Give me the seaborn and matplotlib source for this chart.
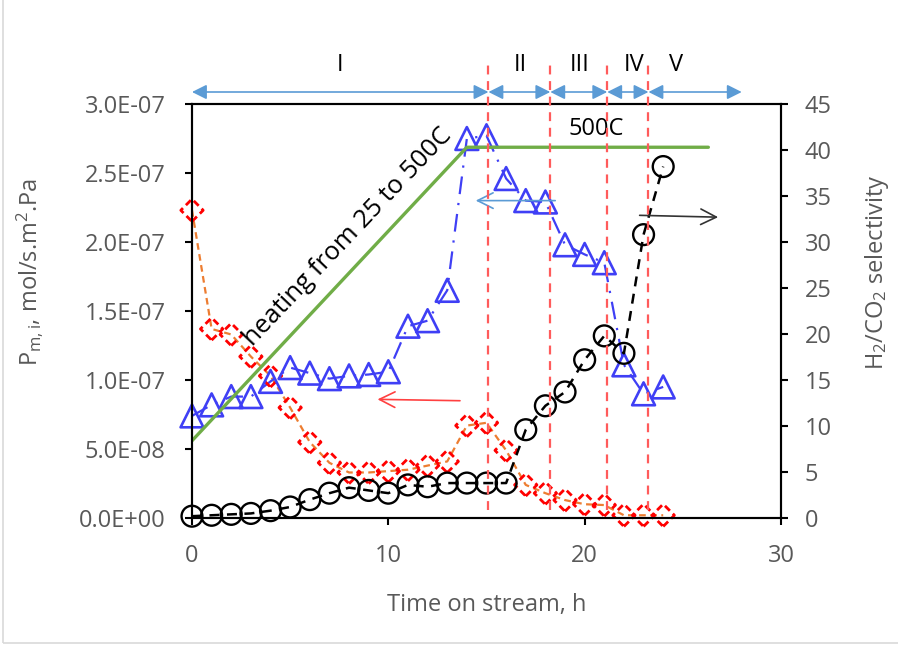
import matplotlib
matplotlib.use('Agg')
import numpy as np
import pandas as pd
import matplotlib.pyplot as plt
import seaborn as sns
from matplotlib.ticker import FuncFormatter, MultipleLocator
from matplotlib.patches import Rectangle

sns.set_theme(style='ticks')
plt.rcParams['font.family'] = ['Open Sans', 'DejaVu Sans']
plt.rcParams['mathtext.fontset'] = 'custom'
plt.rcParams['mathtext.rm'] = 'Open Sans'
plt.rcParams['mathtext.it'] = 'Open Sans'
plt.rcParams['mathtext.default'] = 'regular'

# =========================
#  DATA
# =========================

hours = list(range(25))

# H2 permeance, mol/s.m2.Pa (blue triangles, left axis)
h2_perm = [7.4e-8, 8.2e-8, 8.8e-8, 8.8e-8, 9.9e-8, 1.09e-7, 1.05e-7, 1.01e-7,
           1.03e-7, 1.04e-7, 1.06e-7, 1.39e-7, 1.43e-7, 1.65e-7, 2.75e-7,
           2.77e-7, 2.46e-7, 2.30e-7, 2.29e-7, 1.98e-7, 1.91e-7, 1.85e-7,
           1.11e-7, 9.0e-8, 9.5e-8]

# CO2 permeance, mol/s.m2.Pa (red diamonds, left axis)
co2_perm = [2.23e-7, 1.37e-7, 1.33e-7, 1.17e-7, 1.03e-7, 8.0e-8, 5.5e-8, 4.0e-8,
            3.3e-8, 3.3e-8, 3.4e-8, 3.5e-8, 3.8e-8, 4.1e-8, 6.7e-8, 6.9e-8,
            4.9e-8, 2.4e-8, 1.8e-8, 1.3e-8, 1.0e-8, 9.4e-9, 2.0e-9, 2.0e-9, 2.0e-9]

# H2/CO2 selectivity (black circles, right axis)
selectivity = [0.2, 0.3, 0.4, 0.5, 0.8, 1.2, 2.0, 2.7, 3.3, 3.0, 2.7, 3.6, 3.4,
               3.8, 3.8, 3.8, 3.8, 9.6, 12.2, 13.7, 17.2, 19.8, 17.9, 30.8, 38.2]

# heating ramp 25 -> 500C, drawn against the right axis
heat_t = [0, 14.0, 26.3]
heat_level = [8.4, 40.3, 40.3]

# stages I..V
stage_labels = ['I', 'II', 'III', 'IV', 'V']
stage_label_x = [7.55, 16.75, 19.75, 22.5, 24.65]
stage_edges = [0, 15.1, 18.25, 21.15, 23.25, 28.0]

GRAY = '#595959'
FS = 17

# =========================
#  FIGURE
# =========================

fig = plt.figure(figsize=(8.98, 6.46), dpi=100)
fig.patches.append(Rectangle((0.0035, 0.005), 1.2, 1.2, transform=fig.transFigure,
                             fill=False, ec='#D9D9D9', lw=1.2))
ax = fig.add_axes([0.2138, 0.1981, 0.6559, 0.6409])
ax2 = ax.twinx()

# left axis series
sns.lineplot(x=hours, y=co2_perm, ax=ax, color='#ED7D31', lw=1.6,
             linestyle=(0, (3, 2)), zorder=2)
sns.scatterplot(x=hours, y=co2_perm, ax=ax, marker='D', s=130, facecolor='none',
                edgecolor='#FF0000', linewidth=2.0, linestyle=(0, (2.5, 1.5)),
                zorder=3, clip_on=False)
sns.lineplot(x=hours, y=h2_perm, ax=ax, color='#3F3FF5', lw=1.6,
             linestyle=(0, (8, 4, 1, 4)), zorder=2)
sns.scatterplot(x=hours, y=h2_perm, ax=ax, marker='^', s=270, facecolor='none',
                edgecolor='#3F3FF5', linewidth=1.9, zorder=3, clip_on=False)

# right axis series
sns.lineplot(x=heat_t, y=heat_level, ax=ax2, color='#70AD47', lw=2.4, zorder=2)
sns.lineplot(x=hours, y=selectivity, ax=ax2, color='black', lw=1.8,
             linestyle=(0, (4, 3)), zorder=3)
sns.scatterplot(x=hours, y=selectivity, ax=ax2, marker='o', s=225, facecolor='none',
                edgecolor='black', linewidth=1.7, zorder=4, clip_on=False)

# axes limits / ticks
ax.set_xlim(0, 30)
ax.set_ylim(0, 3.0e-7)
ax2.set_ylim(0, 45)
ax.xaxis.set_major_locator(MultipleLocator(10))
ax.yaxis.set_major_locator(MultipleLocator(5e-8))
ax2.yaxis.set_major_locator(MultipleLocator(5))
ax.yaxis.set_major_formatter(FuncFormatter(lambda v, p: f'{v:.1E}'))

for a in (ax, ax2):
    for s in a.spines.values():
        s.set_color('black')
        s.set_linewidth(1.5)
    a.tick_params(direction='out', length=5, width=1.5, color='black',
                  labelcolor=GRAY, labelsize=FS)
    a.set_xlabel('')
    a.set_ylabel('')
ax.tick_params(axis='y', pad=14)
ax.tick_params(axis='x', pad=14)
ax2.tick_params(axis='y', pad=12)

ax.set_xlabel('Time on stream, h', fontsize=FS, color=GRAY, labelpad=18)
ax.set_ylabel('P$_{m,i}$, mol/s.m$^2$.Pa', fontsize=FS, color=GRAY)
ax.yaxis.set_label_coords(-0.25, 0.594)
ax2.set_ylabel('H$_2$/CO$_2$ selectivity', fontsize=FS, color=GRAY)
ax2.yaxis.set_label_coords(1.139, 0.594)

# stage boundaries
ax2.vlines(stage_edges[1:-1], 0.019, 1.094, transform=ax2.get_xaxis_transform(),
           colors='#FF5B5B', linestyles=(0, (4, 3)), lw=1.6, clip_on=False, zorder=5)

# stage arrows and labels
for i in range(len(stage_labels)):
    ax.annotate('', xy=(stage_edges[i + 1], 1.029), xytext=(stage_edges[i], 1.029),
                xycoords=ax.get_xaxis_transform(), annotation_clip=False,
                arrowprops=dict(arrowstyle='<|-|>', color='#5B9BD5', lw=1.2,
                                mutation_scale=22, shrinkA=0, shrinkB=0))
    ax.text(stage_label_x[i], 1.094, stage_labels[i], transform=ax.get_xaxis_transform(),
            ha='center', va='center', fontsize=FS, color='black')

# in-plot annotations
ax2.text(20.6, 42.3, '500C', ha='center', va='center', fontsize=FS, color='black')
ax2.text(7.95, 30.5, 'heating from 25 to 500C', ha='center', va='center',
         rotation=46.5, rotation_mode='anchor', fontsize=18.5, color='black')

ax.annotate('', xy=(9.45, 8.6e-8), xytext=(13.65, 8.5e-8),
            arrowprops=dict(arrowstyle='->', color='#FF4040', lw=1.2,
                            mutation_scale=28, shrinkA=0, shrinkB=0))
ax.annotate('', xy=(14.45, 2.30e-7), xytext=(18.5, 2.30e-7),
            arrowprops=dict(arrowstyle='->', color='#5B9BD5', lw=1.2,
                            mutation_scale=28, shrinkA=0, shrinkB=0))
ax2.annotate('', xy=(26.8, 32.7), xytext=(22.8, 32.9),
             arrowprops=dict(arrowstyle='->', color='#333333', lw=1.2,
                             mutation_scale=28, shrinkA=0, shrinkB=0))

fig.savefig('out.png', dpi=100)
